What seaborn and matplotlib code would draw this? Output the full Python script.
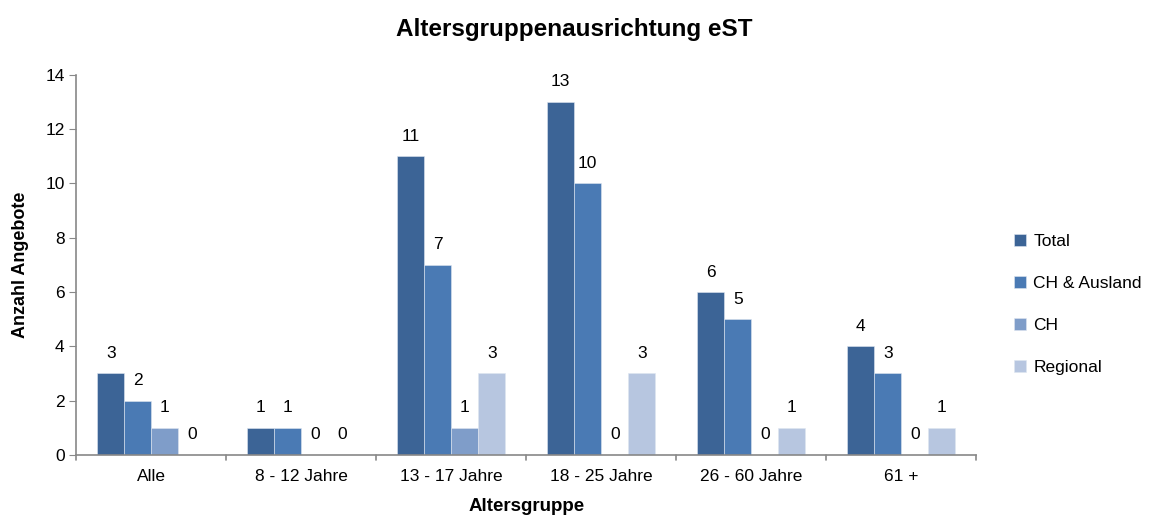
import matplotlib
matplotlib.use('Agg')
import matplotlib.pyplot as plt
import pandas as pd
import seaborn as sns

# Data
categories = ['Alle', '8 - 12 Jahre', '13 - 17 Jahre', '18 - 25 Jahre', '26 - 60 Jahre', '61 +']
series = ['Total', 'CH & Ausland', 'CH', 'Regional']
total = [3, 1, 11, 13, 6, 4]
ch_ausland = [2, 1, 7, 10, 5, 3]
ch = [1, 0, 1, 0, 0, 0]
regional = [0, 0, 3, 3, 1, 1]

colors = ['#3C6496', '#4A7AB4', '#7F9DC9', '#B7C6E0']

df = pd.DataFrame({'Altersgruppe': categories, 'Total': total,
                   'CH & Ausland': ch_ausland, 'CH': ch, 'Regional': regional})
df_long = df.melt(id_vars='Altersgruppe', var_name='Serie', value_name='Anzahl')

sns.set_style('white')
plt.rcParams['font.family'] = ['Liberation Sans', 'DejaVu Sans']
plt.rcParams['text.color'] = 'black'
plt.rcParams['xtick.labelcolor'] = 'black'
plt.rcParams['ytick.labelcolor'] = 'black'
plt.rcParams['axes.labelcolor'] = 'black'

fig = plt.figure(figsize=(11.58, 5.26), dpi=100)
ax = fig.add_axes([0.066, 0.135, 0.777, 0.723])

sns.barplot(data=df_long, x='Altersgruppe', y='Anzahl', hue='Serie',
            order=categories, hue_order=series, palette=colors,
            width=0.72, gap=0, saturation=1, linewidth=0.4,
            edgecolor='#dfe6f0', ax=ax)

for cont in ax.containers:
    ax.bar_label(cont, fmt='%d', padding=9, fontsize=12.5, color='black')

ax.set_ylim(0, 14)
ax.set_yticks(range(0, 15, 2))
ax.set_xlim(-0.5, len(categories) - 0.5)
ax.tick_params(axis='y', labelsize=12.5, length=5, color='#888888', direction='out', left=True)
ax.tick_params(axis='x', labelsize=12.5, length=0, pad=10)
# category boundary tick marks
for i in range(len(categories) + 1):
    ax.plot([i - 0.5, i - 0.5], [0, -0.2], color='#888888', lw=1.2, clip_on=False)

for s in ['top', 'right']:
    ax.spines[s].set_visible(False)
for s in ['left', 'bottom']:
    ax.spines[s].set_color('#888888')
    ax.spines[s].set_linewidth(1.2)

ax.set_xlabel('Altersgruppe', fontsize=13.5, fontweight='bold', labelpad=10)
ax.set_ylabel('Anzahl Angebote', fontsize=13, fontweight='bold', labelpad=12)
fig.suptitle('Altersgruppenausrichtung eST', fontsize=17.5, fontweight='bold',
             x=0.496, y=0.943, va='center')

ax.legend(loc='center left', bbox_to_anchor=(1.025, 0.395), frameon=False,
          fontsize=12.5, handlelength=0.7, handleheight=0.7, labelspacing=1.55,
          handletextpad=0.4, labelcolor='black')

plt.savefig('out.png', dpi=100)
